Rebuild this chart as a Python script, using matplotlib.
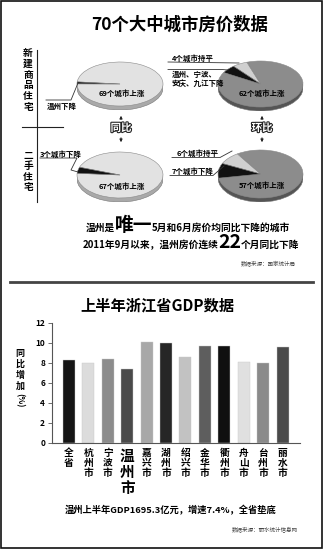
import matplotlib
matplotlib.use('Agg')
import matplotlib.pyplot as plt
from matplotlib.patches import Ellipse, Rectangle
import matplotlib.patheffects as pe

plt.rcParams['font.family'] = ['Noto Sans CJK SC', 'DejaVu Sans']

# ---------------- data ----------------
new_yoy_values = [69, 1]          # 上涨, 下降
new_mom_values = [62, 4, 4]       # 上涨, 持平, 下降
used_yoy_values = [67, 3]         # 上涨, 下降
used_mom_values = [57, 6, 7]      # 上涨, 持平, 下降

gdp_cities = ['全省', '杭州市', '宁波市', '温州市', '嘉兴市', '湖州市',
              '绍兴市', '金华市', '衢州市', '舟山市', '台州市', '丽水市']
gdp_growth = [8.3, 8.0, 8.4, 7.4, 10.1, 10.0, 8.6, 9.7, 9.7, 8.1, 8.0, 9.6]
y_ticks = [0, 2, 4, 6, 8, 10, 12]
bar_colors = ['#151515', '#dcdcdc', '#8c8c8c', '#4a4a4a', '#a8a8a8', '#262626',
              '#c2c2c2', '#5e5e5e', '#101010', '#e0e0e0', '#8a8a8a', '#4a4a4a']

W, H = 325, 550
fig = plt.figure(figsize=(W / 100, H / 100), dpi=100)
fig.patch.set_facecolor('white')

bg = fig.add_axes([0, 0, 1, 1])
bg.set_xlim(0, W)
bg.set_ylim(H, 0)
bg.axis('off')
bg.set_zorder(10)
bg.patch.set_visible(False)


def px_axes(x0, y0, x1, y1):
    return fig.add_axes([x0 / W, 1 - y1 / H, (x1 - x0) / W, (y1 - y0) / H])


def draw_pie(cx, cy, rx, ry, d, values, colors, startangle, rim):
    ax = px_axes(cx - rx, cy - ry, cx + rx, cy + ry + d)
    off = d / ry
    ax.add_patch(Ellipse((0, -off), 2, 2, fc=rim, ec='#777777', lw=0.4))
    ax.add_patch(Rectangle((-1, -off), 2, off, fc=rim, lw=0))
    ax.pie(values, colors=colors, startangle=startangle, radius=1,
           wedgeprops=dict(ec='#8a8a8a', lw=0.4))
    ax.set_aspect('auto')
    ax.set_xlim(-1.0, 1.0)
    ax.set_ylim(-1 - off, 1.0)
    ax.axis('off')
    return ax


LIGHT, DARK, BLACK, FLAT = '#e2e2e2', '#8c8c8c', '#111111', '#d0d0d0'
draw_pie(120, 84, 43, 22, 4, new_yoy_values, [LIGHT, BLACK], 179.6, '#a9a9a9')
draw_pie(260.5, 84, 42.5, 23, 4, new_mom_values, [DARK, FLAT, BLACK], 150, '#555555')
draw_pie(120, 175, 43, 23, 4, used_yoy_values, [LIGHT, BLACK], 175.7, '#a9a9a9')
draw_pie(260.5, 174, 42.5, 24, 4, used_mom_values, [DARK, FLAT, BLACK], 190, '#555555')

B = dict(fontweight='bold')
# titles
bg.text(180, 25, '70个大中城市房价数据', ha='center', va='center', fontsize=12.5, fontweight=900)
bg.text(157, 305, '上半年浙江省GDP数据', ha='center', va='center', fontsize=11, fontweight=900)


def vstack(x, y0, s, pitch, size):
    for i, ch in enumerate(s):
        bg.text(x, y0 + i * pitch, ch, ha='center', va='center', fontsize=size, **B)


vstack(28, 53, '新建商品住宅', 10.8, 7)
vstack(28, 156, '二手住宅', 10.4, 7)
bg.plot([37, 37], [50, 202], color='#222222', lw=0.8)
bg.plot([22, 63], [127, 127], color='#222222', lw=0.8)

# pie labels
lab = dict(fontsize=5.4, fontweight='bold', va='center')
bg.text(122, 93, f'{new_yoy_values[0]}个城市上涨', ha='center', **lab)
bg.text(262, 93, f'{new_mom_values[0]}个城市上涨', ha='center', **lab)
bg.text(122, 186, f'{used_yoy_values[0]}个城市上涨', ha='center', **lab)
bg.text(262, 185, f'{used_mom_values[0]}个城市上涨', ha='center', **lab)

bg.text(47, 106.5, '温州下降', ha='left', **lab)
bg.plot([46, 71, 78], [100, 100, 83], color='#333333', lw=0.6)

bg.text(172, 58, f'{new_mom_values[1]}个城市持平', ha='left', **lab)
bg.plot([168, 239], [62, 63], color='#333333', lw=0.6)
bg.text(172, 74.5, '温州、宁波、', ha='left', **lab)
bg.text(172, 83.5, '安庆、九江下降', ha='left', **lab)
bg.plot([168, 222, 228], [69.5, 69.5, 70], color='#333333', lw=0.6)

bg.text(40, 154, f'{used_yoy_values[1]}个城市下降', ha='left', **lab)
bg.plot([40, 77, 71, 78], [158, 158, 170, 172], color='#333333', lw=0.6)

bg.text(177, 153, f'{used_mom_values[1]}个城市持平', ha='left', **lab)
bg.plot([172, 220, 232], [157.5, 157.5, 151], color='#333333', lw=0.6)
bg.text(172, 171.5, f'{used_mom_values[2]}个城市下降', ha='left', **lab)
bg.plot([170, 213, 224], [175.5, 175.5, 166], color='#333333', lw=0.6)

# 同比 / 环比
for x, t in [(121, '同比'), (262, '环比')]:
    bg.text(x, 128, t, ha='center', va='center', fontsize=7.5, color='white', fontweight='bold',
            path_effects=[pe.withStroke(linewidth=1.6, foreground='#222222')])
    bg.annotate('', xy=(x, 113), xytext=(x, 122),
                arrowprops=dict(arrowstyle='-|>', lw=0.7, color='#222222', mutation_scale=4))
    bg.annotate('', xy=(x, 145), xytext=(x, 135),
                arrowprops=dict(arrowstyle='-|>', lw=0.7, color='#222222', mutation_scale=4))

# mixed-size lines
renderer = fig.canvas.get_renderer()


def rich_line(xc, y, parts):
    texts = []
    widths = []
    for s, size in parts:
        t = bg.text(0, y, s, ha='left', va='baseline', fontsize=size, **B)
        bb = t.get_window_extent(renderer)
        texts.append(t)
        widths.append(bb.width)
    x = xc - sum(widths) / 2
    for t, w in zip(texts, widths):
        t.set_x(x)
        x += w


rich_line(188, 231, [('温州是', 7), ('唯一', 13.5), ('5月和6月房价均同比下降的城市', 7)])
rich_line(191, 248, [('2011年9月以来，温州房价连续', 7), ('22', 14), ('个月同比下降', 7)])
bg.text(268, 263, '数据来源：国家统计局', ha='center', va='center', fontsize=4, color='#444444')

# frame + separator
bg.add_patch(Rectangle((1, 1), 321, 547, fill=False, ec='#111111', lw=1.2))
bg.plot([10, 313], [282, 282], color='#444444', lw=2)

# ---------------- bar chart ----------------
ax = px_axes(52, 322.5, 300, 442.5)
xs = list(range(len(gdp_cities)))
ax.bar(xs, gdp_growth, width=0.62, color=bar_colors, ec='#c8c8c8', lw=0.3)
ax.set_xlim(-0.876, 11.9)
ax.set_ylim(0, 12)
ax.set_yticks(y_ticks)
ax.set_yticklabels([str(v) for v in y_ticks], fontsize=6, fontweight='bold')
ax.tick_params(axis='y', direction='out', length=3, width=0.6, pad=2, color='#555555')
ax.set_xticks(xs)
ax.set_xticklabels(['\n'.join(c) for c in gdp_cities], fontsize=7, fontweight='bold',
                   linespacing=1.0, va='top')
ax.tick_params(axis='x', length=0, pad=4)
for lbl, c in zip(ax.get_xticklabels(), gdp_cities):
    if c == '温州市':
        lbl.set_fontsize(10.5)
for s in ['top', 'right']:
    ax.spines[s].set_visible(False)
for s in ['left', 'bottom']:
    ax.spines[s].set_color('#555555')
    ax.spines[s].set_linewidth(0.8)

vstack(20, 353, '同比增加', 11, 6.5)
bg.text(20, 400, '(%)', ha='center', va='center', fontsize=6, rotation=270, **B)

bg.text(171, 510, '温州上半年GDP1695.3亿元，增速7.4%，全省垫底', ha='center', va='center',
        fontsize=6.7, **B)
bg.text(265, 529, '数据来源：丽水统计信息网', ha='center', va='center', fontsize=4, color='#444444')

fig.savefig('out.png', dpi=100)
